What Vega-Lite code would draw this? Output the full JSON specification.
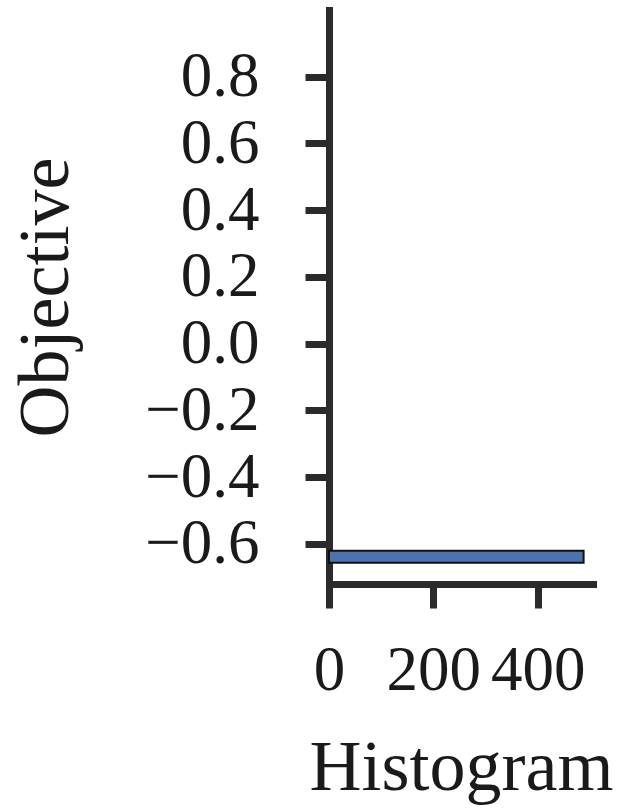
{
  "$schema": "https://vega.github.io/schema/vega-lite/v6.json",
  "autosize": "none",
  "width": 264,
  "height": 574,
  "padding": {"left": 329, "top": 10, "right": 31, "bottom": 224},
  "background": "white",
  "data": {"values": [{"bin_start": -0.656, "bin_end": -0.62, "count": 488}]},
  "mark": {"type": "bar", "fill": "#4c72b0", "stroke": "#111111", "strokeWidth": 2, "clip": false},
  "encoding": {
    "x": {
      "field": "count", "type": "quantitative",
      "scale": {"domain": [0, 506], "nice": false, "zero": true},
      "axis": {"title": "Histogram", "values": [0, 200, 400], "format": "d", "grid": false}
    },
    "x2": {"datum": 0},
    "y": {
      "field": "bin_start", "type": "quantitative",
      "scale": {"domain": [-0.72, 1.0], "nice": false, "zero": false},
      "axis": {"title": "Objective", "values": [-0.6, -0.4, -0.2, 0, 0.2, 0.4, 0.6, 0.8], "format": ".1f", "grid": false}
    },
    "y2": {"field": "bin_end"}
  },
  "config": {
    "view": {"stroke": null},
    "axis": {
      "domainColor": "#2b2b2b", "domainWidth": 7, "domainCap": "square",
      "tickColor": "#2b2b2b", "tickWidth": 7, "tickSize": 24,
      "labelFont": "Liberation Serif", "labelFontSize": 63, "labelColor": "#1a1a1a",
      "titleFont": "Liberation Serif", "titleFontSize": 72, "titleFontWeight": "normal", "titleColor": "#1a1a1a",
      "labelOverlap": false, "labelFlush": false, "labelBound": false
    },
    "axisX": {"labelPadding": 31, "titlePadding": 30},
    "axisY": {"labelPadding": 46, "titlePadding": 62}
  }
}
